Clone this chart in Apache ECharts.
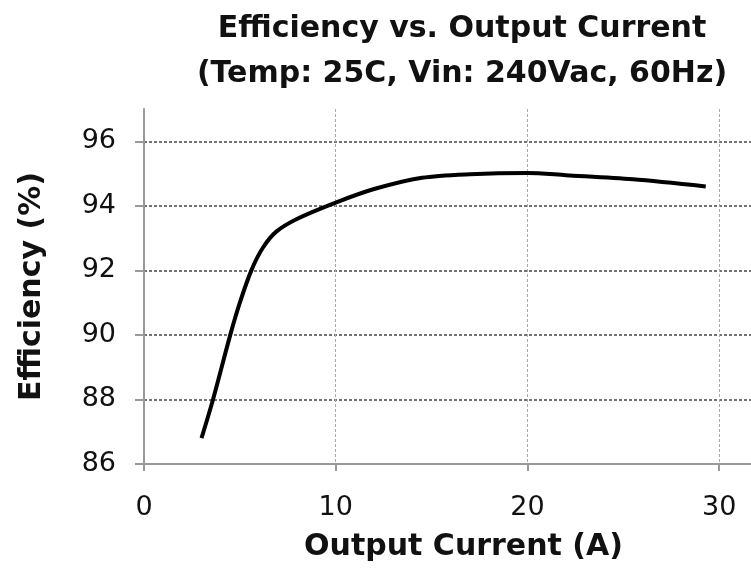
<!DOCTYPE html>
<html>
<head>
<meta charset="utf-8">
<script src="https://cdn.jsdelivr.net/npm/echarts@6/dist/echarts.min.js"></script>
<style>
  html, body { margin: 0; padding: 0; background: #fff; }
  #chart { width: 751px; height: 569px; }
</style>
</head>
<body>
<div id="chart"></div>
<script>
// output current (A) and efficiency (%)
const currentA = [3, 3.6, 4.5, 5, 5.6, 6.2, 6.9, 8, 10, 12, 14.5, 17, 20, 22, 25.5, 29.3]
const efficiency = [86.8, 88, 90, 91, 92, 92.7, 93.2, 93.6, 94.1, 94.52, 94.87, 94.98, 95.02, 94.95, 94.82, 94.6]
const xTicks = [0, 10, 20, 30]
const yTicks = [86, 88, 90, 92, 94, 96]

const myChart = echarts.init(document.getElementById('chart'))
const fontFamily = 'DejaVu Sans, Verdana, sans-serif'

const option = {
  animation: false,
  title: {
    text: 'Efficiency vs. Output Current\n(Temp: 25C, Vin: 240Vac, 60Hz)',
    left: 457,
    textAlign: 'center',
    top: 2,
    textStyle: {
      fontFamily,
      fontSize: 30,
      fontWeight: 'bold',
      color: '#111',
      lineHeight: 45,
    },
  },
  // plot runs past the right edge a little so the extent line is not seen
  grid: {
    left: 144,
    right: -3,
    top: 109,
    bottom: 105,
  },
  xAxis: {
    type: 'value',
    min: 0,
    max: 31.66,
    interval: 10,
    name: 'Output Current (A)',
    nameLocation: 'middle',
    nameGap: 68,
    nameTextStyle: {
      fontFamily,
      fontSize: 30,
      fontWeight: 'bold',
      color: '#111',
      padding: [0, 0, 0, 32],
    },
    axisLine: { lineStyle: { color: '#999', width: 2 } },
    axisTick: { length: 7, customValues: xTicks, lineStyle: { color: '#999', width: 2 } },
    axisLabel: {
      customValues: xTicks,
      margin: 30,
      fontFamily,
      fontSize: 27,
      color: '#111',
      formatter: (v) => (v % 10 === 0 ? String(v) : ''),
    },
    splitLine: {
      lineStyle: { color: '#aaa', width: 1, type: [3, 2] },
    },
  },
  yAxis: {
    type: 'value',
    min: 86,
    max: 97,
    interval: 2,
    name: 'Efficiency (%)',
    nameLocation: 'middle',
    nameGap: 97,
    nameTextStyle: {
      fontFamily,
      fontSize: 30,
      fontWeight: 'bold',
      color: '#111',
    },
    axisLine: { show: true, lineStyle: { color: '#999', width: 2 } },
    axisTick: { show: true, length: 9, customValues: yTicks, lineStyle: { color: '#999', width: 2 } },
    axisLabel: {
      customValues: yTicks,
      margin: 28,
      fontFamily,
      fontSize: 27,
      color: '#111',
      formatter: (v) => (v % 2 === 0 ? String(v) : ''),
    },
    splitLine: {
      showMinLine: false,
      lineStyle: { color: '#444', width: 1.5, type: [3, 2] },
    },
  },
  series: [
    {
      type: 'line',
      data: currentA.map((x, i) => [x, efficiency[i]]),
      smooth: 0.3,
      showSymbol: false,
      lineStyle: { color: '#000', width: 4 },
    },
  ],
}
myChart.setOption(option)
</script>
</body>
</html>
